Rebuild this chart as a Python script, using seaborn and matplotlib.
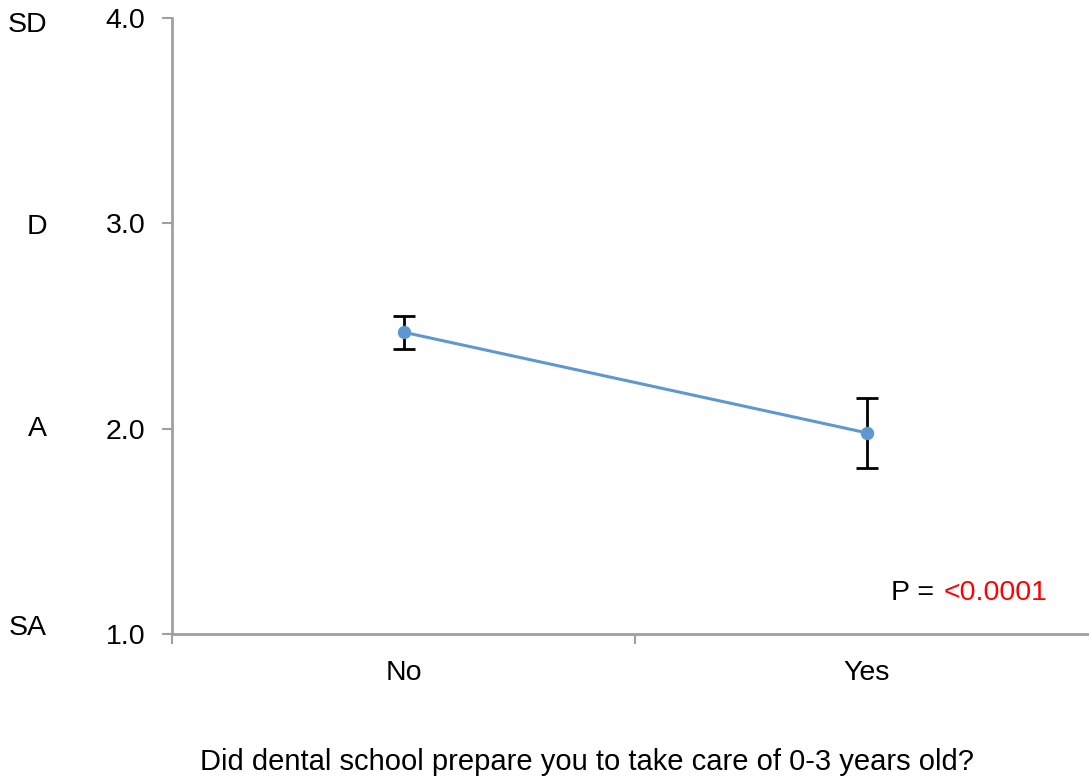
import matplotlib
matplotlib.use("Agg")
import matplotlib.pyplot as plt
import matplotlib.transforms as mtransforms
import pandas as pd
import seaborn as sns

answers = ["No", "Yes"]
mean_scores = [2.47, 1.98]
score_errors = [0.08, 0.17]
y_ticks = [1.0, 2.0, 3.0, 4.0]
scale_labels = ["SA", "A", "D", "SD"]
p_value_text = "<0.0001"

df = pd.DataFrame({"answer": answers, "score": mean_scores, "err": score_errors})

sns.set_theme(style="white")
plt.rcParams["font.family"] = ["Liberation Sans", "DejaVu Sans"]
plt.rcParams["text.color"] = "black"
plt.rcParams["xtick.color"] = "black"
plt.rcParams["ytick.color"] = "black"
plt.rcParams["axes.labelcolor"] = "black"

fig = plt.figure(figsize=(10.89, 7.81), dpi=100)
ax = fig.add_axes([172 / 1089, 147 / 781, 926 / 1089, 616 / 781])

line_color = "#5f97d1"
ax.errorbar(range(len(answers)), df["score"], yerr=df["err"], fmt="none",
            ecolor="black", elinewidth=2, capsize=8, capthick=2, zorder=2)
sns.pointplot(data=df, x="answer", y="score", color=line_color, errorbar=None,
              markers="o", markersize=8, linewidth=2.2, ax=ax, zorder=3)

ax.set_xlim(-0.5, 1.5)
ax.set_ylim(1.0, 4.0)
ax.set_yticks(y_ticks)
ax.set_yticklabels([f"{t:.1f}" for t in y_ticks])
ax.set_xticks([0, 1])
ax.set_xticks([-0.5, 0.5, 1.5], minor=True)
ax.tick_params(axis="x", which="major", length=0, pad=19, labelsize=20.5, labelcolor="black")
ax.tick_params(axis="x", which="minor", bottom=True, length=7, width=1.5,
               color="#a0a0a0", direction="out")
ax.tick_params(axis="y", length=7, width=1.5, color="#a0a0a0", direction="out",
               pad=12, labelsize=20.5, left=True, labelcolor="black")

for side in ["top", "right"]:
    ax.spines[side].set_visible(False)
for side in ["left", "bottom"]:
    ax.spines[side].set_color("#a0a0a0")
    ax.spines[side].set_linewidth(2)

ax.set_ylabel("")
ax.set_xlabel("Did dental school prepare you to take care of 0-3 years old?",
              fontsize=21, color="black")
ax.xaxis.set_label_coords((587 - 172) / 926, -0.185)

# scale words sit a little off the numeric ticks in the original
label_pos = [1.03, 2.0, 2.982, 3.966]
trans = mtransforms.blended_transform_factory(fig.transFigure, ax.transData)
for t, lab in zip(label_pos, scale_labels):
    ax.text(47 / 1089, t, lab, transform=trans, ha="right", va="center",
            fontsize=20.5, color="black")

ax.text((934 - 172) / 926, 0.0666, "P =", transform=ax.transAxes, ha="right",
        va="center", fontsize=20.5, color="black")
ax.text((944 - 172) / 926, 0.0666, p_value_text, transform=ax.transAxes, ha="left",
        va="center", fontsize=20.5, color="red")

fig.savefig("out.png", dpi=100)
